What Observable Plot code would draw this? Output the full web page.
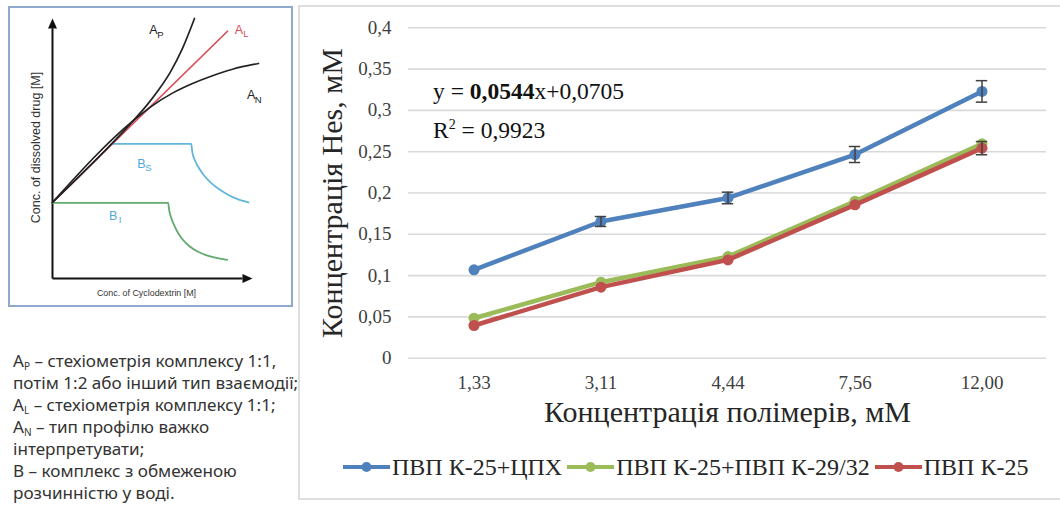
<!DOCTYPE html>
<html><head><meta charset="utf-8">
<script src="https://cdn.jsdelivr.net/npm/d3@7"></script>
<script src="https://cdn.jsdelivr.net/npm/@observablehq/plot@0.6"></script>
<style>
html,body{margin:0;padding:0;background:#fff;width:1060px;height:508px;overflow:hidden;}
#root{position:relative;width:1060px;height:508px;overflow:hidden;}
#schemeBox{position:absolute;left:8px;top:6px;width:285px;height:301px;border:2px solid #8ea9cc;box-sizing:border-box;background:#fff;}
#scheme{position:absolute;left:0;top:0;}
#notes{position:absolute;left:13px;top:350px;font-family:"Noto Sans";font-size:17.1px;line-height:22px;color:#333;white-space:nowrap;}
#notes sub{font-size:10px;vertical-align:-3px;line-height:0;}
#chartBox{position:absolute;left:298px;top:5px;width:790px;height:495px;border:2px solid #dedede;box-sizing:border-box;}
#chart{position:absolute;left:0;top:0;}
.eq{position:absolute;left:433px;font-family:"Liberation Serif";font-size:23.5px;line-height:1;color:#111;white-space:nowrap;}
.eq sup{font-size:14px;vertical-align:9px;line-height:0;}
#legend{position:absolute;left:343px;top:455px;display:flex;align-items:flex-start;font-family:"Liberation Serif";font-size:24px;line-height:1;color:#262626;white-space:nowrap;}
#legend .item{display:flex;align-items:flex-start;margin-right:5px;}
#legend svg{margin-top:5px;margin-right:2px;}
</style></head>
<body><div id="root">
<div id="schemeBox"><div id="scheme"></div></div>
<div id="notes"></div>
<div id="chartBox"><div id="chart"></div></div>
<div class="eq" id="eq1" style="top:80px"></div>
<div class="eq" id="eq2" style="top:119px"></div>
<div id="legend"></div>
</div>
<script>
// ---------------- main chart data ----------------
const categories = ["1,33", "3,11", "4,44", "7,56", "12,00"];
const seriesNames = ["ПВП К-25+ЦПХ", "ПВП К-25+ПВП К-29/32", "ПВП К-25"];
const seriesColors = ["#4f81bd", "#9bbb59", "#c0504d"];
const valsCPH   = [0.107, 0.1655, 0.194, 0.2466, 0.323];
const valsK2932 = [0.0484, 0.092, 0.123, 0.190, 0.2596];
const valsK25   = [0.0396, 0.086, 0.119, 0.1857, 0.2543];
const errCPH    = [0, 0.006, 0.007, 0.0097, 0.013];
const errK2932  = [0, 0, 0, 0, 0];
const errK25    = [0, 0, 0, 0, 0.008];
const yTicks = [0, 0.05, 0.1, 0.15, 0.2, 0.25, 0.3, 0.35, 0.4];
const yTickLabels = ["0", "0,05", "0,1", "0,15", "0,2", "0,25", "0,3", "0,35", "0,4"];
const xTitle = "Концентрація полімерів, мМ";
const yTitle = "Концентрація Hes, мМ";
const eqSlope = "0,0544", eqIntercept = "0,0705", r2 = "0,9923";

// ---------------- schematic data (abstract units 0..100) ----------------
const axisEnds = [{x1:0, y1:0, x2:0, y2:96.2, rot:0}, {x1:0, y1:0, x2:95, y2:0, rot:90}];
const curveAL = [{x:0, y:29.3}, {x:87.5, y:95.1}];
const curveAP = [{x:0,y:29.3},{x:40.5,y:60.8},{x:47,y:66.5},{x:53,y:72.5},{x:59,y:79.5},{x:65,y:88.5},{x:71,y:100}];
const curveAN = [{x:0,y:29.3},{x:40.5,y:60.8},{x:50,y:66.5},{x:60,y:71.3},{x:70,y:75.0},{x:80,y:78.0},{x:90,y:80.5},{x:103,y:82.7}];
const curveBS = [{x:29.85,y:51.8},{x:69.35,y:51.8},{x:69.9,y:48.6},{x:71.2,y:45.5},{x:73.2,y:42.5},{x:75.8,y:39.6},{x:79,y:37},{x:83,y:34.5},{x:87.5,y:32.3},{x:92.5,y:30.5},{x:98,y:29.3}];
const curveBI = [{x:0,y:29.1},{x:57.85,y:29.1},{x:58.3,y:26.5},{x:59.3,y:23.5},{x:60.8,y:20.5},{x:62.8,y:17.5},{x:65.3,y:14.8},{x:68.5,y:12.4},{x:72.5,y:10.4},{x:77.5,y:8.8},{x:82.5,y:7.8},{x:87.35,y:7.2}];
const schemeLabels = [
  {x:50.5,  y:95.4, base:"A", sub:"P", color:"#222"},
  {x:93.2,  y:95.7, base:"A", sub:"L", color:"#d9505a"},
  {x:99.3,  y:70.4, base:"A", sub:"N", color:"#222"},
  {x:44.5,  y:44.2, base:"B", sub:"S", color:"#4fa9d6"},
  {x:30.3,  y:24.2, base:"B", sub:"I", color:"#4fa9d6"}
];
const schemeXTitle = "Conc. of Cyclodextrin [M]";
const schemeYTitle = "Conc. of dissolved drug [M]";
const notesLines = [
  ["A","P"," – стехіометрія комплексу 1:1,"],
  ["","","потім 1:2 або інший тип взаємодії;"],
  ["A","L"," – стехіометрія комплексу 1:1;"],
  ["A","N"," – тип профілю важко"],
  ["","","інтерпретувати;"],
  ["","","В – комплекс з обмеженою"],
  ["","","розчинністю у воді."]
];

// ---------------- schematic ----------------
const arrowHead = {draw(ctx){ ctx.moveTo(0,-10); ctx.lineTo(4.5,0); ctx.lineTo(-4.5,0); ctx.closePath(); }};
const scheme = Plot.plot({
  width: 281, height: 297, marginLeft: 42, marginRight: 39, marginTop: 10, marginBottom: 27,
  x: {domain: [0, 100], axis: null}, y: {domain: [0, 100], axis: null},
  style: {background: "transparent", fontFamily: "Liberation Sans", overflow: "visible"},
  marks: [
    Plot.link(axisEnds, {x1:"x1", y1:"y1", x2:"x2", y2:"y2", stroke:"#111", strokeWidth:2}),
    Plot.dot(axisEnds, {x:"x2", y:"y2", symbol: arrowHead, rotate:"rot", fill:"#111", stroke:"none", r:5}),
    Plot.line(curveBI, {x:"x", y:"y", curve:"monotone-x", stroke:"#63aa6e", strokeWidth:1.8}),
    Plot.line(curveBS, {x:"x", y:"y", curve:"monotone-x", stroke:"#62b6dc", strokeWidth:1.8}),
    Plot.line(curveAL, {x:"x", y:"y", stroke:"#d9505a", strokeWidth:1.7}),
    Plot.line(curveAN, {x:"x", y:"y", curve:"monotone-x", stroke:"#222", strokeWidth:1.7}),
    Plot.line(curveAP, {x:"x", y:"y", curve:"monotone-x", stroke:"#222", strokeWidth:1.7}),
    Plot.text(schemeLabels, {x:"x", y:"y", text:"base", fill:"color", fontSize:12.5}),
    Plot.text(schemeLabels, {x:"x", y:"y", text:"sub", fill:"color", fontSize:9.5, dx:7, dy:4}),
    Plot.text([schemeXTitle], {text: d => d, frameAnchor:"bottom", textAnchor:"middle", dx:-6, dy:17, fontSize:8.9, fill:"#333"}),
    Plot.text([schemeYTitle], {text: d => d, frameAnchor:"left", textAnchor:"middle", dx:-17, dy:-1, rotate:-90, fontSize:12.5, fill:"#333"})
  ]
});
document.getElementById("scheme").appendChild(scheme);

// notes
const notes = document.getElementById("notes");
for (const [b, s, t] of notesLines) {
  const div = document.createElement("div");
  if (b) { div.append(b); const sb = document.createElement("sub"); sb.textContent = s; div.append(sb); }
  div.append(t);
  notes.appendChild(div);
}

// ---------------- main chart ----------------
const allVals = [valsCPH, valsK2932, valsK25];
const allErr = [errCPH, errK2932, errK25];
const rows = [];
seriesNames.forEach((name, si) => categories.forEach((c, ci) => rows.push({series: name, si, cat: c, v: allVals[si][ci], e: allErr[si][ci]})));
const marks = [
  Plot.gridY(yTicks, {stroke: "#d9d9d9", strokeOpacity: 1, strokeWidth: 1.6}),
  Plot.axisY(yTicks, {tickSize: 0, tickPadding: 17, fontSize: 19, label: null, fill: "#404040", tickFormat: d => yTickLabels[yTicks.indexOf(d)]}),
  Plot.axisX({tickSize: 0, tickPadding: 17, fontSize: 19, label: null, fill: "#404040"})
];
seriesNames.forEach((name, si) => {
  const data = rows.filter(d => d.si === si);
  marks.push(Plot.line(data, {x: "cat", y: "v", stroke: seriesColors[si], strokeWidth: 4.5}));
  marks.push(Plot.dot(data, {x: "cat", y: "v", fill: seriesColors[si], r: 5.5}));
  const ed = data.filter(d => d.e > 0);
  marks.push(Plot.ruleX(ed, {x: "cat", y1: d => d.v - d.e, y2: d => d.v + d.e, stroke: "#404040", strokeWidth: 1.5}));
  marks.push(Plot.tickY(ed, {x: "cat", y: d => d.v + d.e, insetLeft: 57.8, insetRight: 57.8, stroke: "#404040", strokeWidth: 1.5}));
  marks.push(Plot.tickY(ed, {x: "cat", y: d => d.v - d.e, insetLeft: 57.8, insetRight: 57.8, stroke: "#404040", strokeWidth: 1.5}));
});
marks.push(Plot.text([yTitle], {text: d => d, frameAnchor: "left", textAnchor: "middle", dx: -76, rotate: -90, fontSize: 30, fill: "#262626"}));
marks.push(Plot.text([xTitle], {text: d => d, frameAnchor: "bottom", textAnchor: "middle", dy: 64, fontSize: 30, fill: "#262626"}));

const chart = Plot.plot({
  width: 760, height: 430, marginLeft: 108, marginRight: 14, marginTop: 20.3, marginBottom: 79.3,
  style: {fontFamily: "Liberation Serif", background: "transparent", overflow: "visible"},
  x: {type: "band", domain: categories, padding: 0, axis: null},
  y: {domain: [0, 0.4], axis: null},
  marks
});
document.getElementById("chart").appendChild(chart);

// equation
document.getElementById("eq1").innerHTML = "y = <b>" + eqSlope + "</b>x+" + eqIntercept;
document.getElementById("eq2").innerHTML = "R<sup>2</sup> = " + r2;

// legend
const legend = document.getElementById("legend");
seriesNames.forEach((name, si) => {
  const item = document.createElement("span");
  item.className = "item";
  item.innerHTML = `<svg width="47" height="14"><line x1="0" y1="7" x2="47" y2="7" stroke="${seriesColors[si]}" stroke-width="4"/><circle cx="23.5" cy="7" r="5" fill="${seriesColors[si]}"/></svg><span>${name}</span>`;
  legend.appendChild(item);
});
</script>
</body></html>
